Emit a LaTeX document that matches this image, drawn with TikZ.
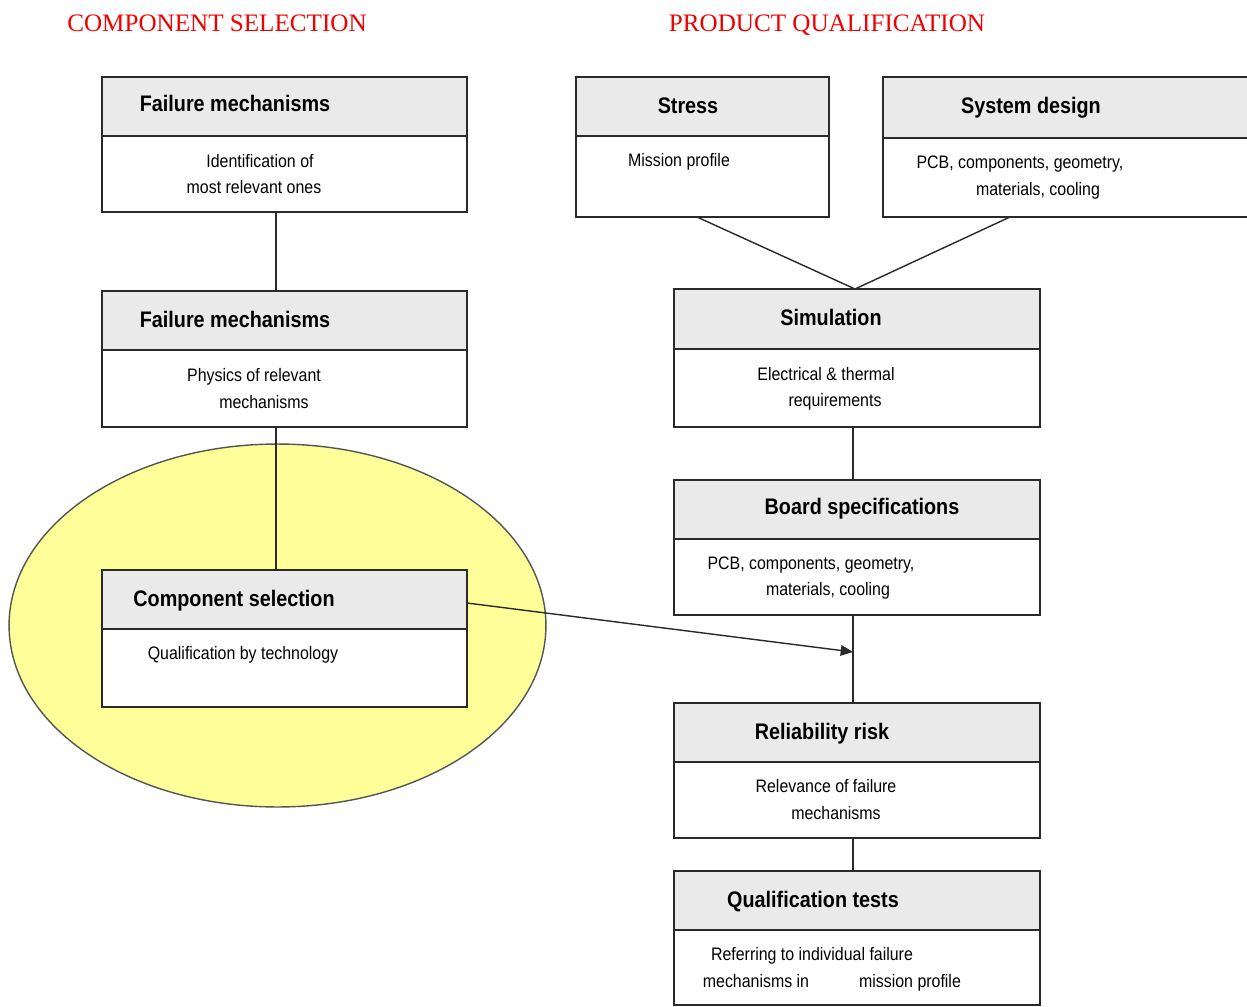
\documentclass[tikz,border=0pt]{standalone}
\usepackage{fontspec}
\setmainfont{Liberation Serif}
\newfontfamily\boxfont[FakeStretch=0.88]{Liberation Sans}
\usetikzlibrary{fit,shapes.geometric,arrows.meta}
\definecolor{hdrgray}{HTML}{EAEAEA}
\definecolor{linec}{HTML}{2A2A2A}
\definecolor{ellfill}{HTML}{FFFF99}
\definecolor{redtitle}{HTML}{F00000}
\tikzset{
  hdr/.style={draw=linec, fill=hdrgray, line width=0.8pt, inner sep=0pt},
  bdy/.style={draw=linec, fill=white, line width=0.8pt, inner sep=0pt},
  ttl/.style={font=\boxfont\bfseries\fontsize{12.8}{14}\selectfont, inner sep=0pt, anchor=base},
  txt/.style={font=\boxfont\fontsize{10.3}{12}\selectfont, inner sep=0pt, anchor=base},
  sect/.style={font=\fontsize{14.3}{16}\selectfont, text=redtitle, inner sep=0pt, anchor=base},
  conn/.style={draw=linec, line width=0.8pt},
}
\begin{document}
\begin{tikzpicture}[x=0.02cm, y=-0.02cm]
\useasboundingbox (0,0) rectangle (1247,1007);
\fill[white] (0,0) rectangle (1247,1007);

% section titles
\node[sect] (t1) at (217,32) {COMPONENT SELECTION};
\node[sect] (t2) at (827,32) {PRODUCT QUALIFICATION};

% ellipse
\node[ellipse, draw=linec!80, fill=ellfill, line width=0.8pt, minimum width=10.74cm, minimum height=7.26cm, inner sep=0pt] (ell) at (277.5,625.5) {};

% Failure mechanisms 1
\node[hdr, fit={(102,77) (467,136)}] (fm1h) {};
\node[bdy, fit={(102,136) (467,212)}] (fm1b) {};
\node[ttl] (fm1t) at (235,112) {Failure mechanisms};
\node[txt] (fm1x1) at (260,167) {Identification of};
\node[txt] (fm1x2) at (254,193) {most relevant ones};

% Failure mechanisms 2
\node[hdr, fit={(102,291) (467,350)}] (fm2h) {};
\node[bdy, fit={(102,350) (467,427)}] (fm2b) {};
\node[ttl] (fm2t) at (235,327) {Failure mechanisms};
\node[txt] (fm2x1) at (254,381) {Physics of relevant};
\node[txt] (fm2x2) at (264,408) {mechanisms};

% Component selection
\node[hdr, fit={(102,570) (467,629)}] (csh) {};
\node[bdy, fit={(102,629) (467,707)}] (csb) {};
\node[ttl] (cst) at (234,606) {Component selection};
\node[txt] (csx1) at (243,659) {Qualification by technology};

% connectors left column
\coordinate (lx) at (276,0);
\draw[conn] (fm1b.south -| lx) -- (fm2h.north -| lx);
\draw[conn] (fm2b.south -| lx) -- (csh.north -| lx);

% Stress
\node[hdr, fit={(576,77) (829,136)}] (sth) {};
\node[bdy, fit={(576,136) (829,217)}] (stb) {};
\node[ttl] (stt) at (688,113) {Stress};
\node[txt] (stx1) at (679,166) {Mission profile};

% System design
\node[hdr, fit={(883,77) (1258,138)}] (sdh) {};
\node[bdy, fit={(883,138) (1258,217)}] (sdb) {};
\node[ttl] (sdt) at (1031,113) {System design};
\node[txt] (sdx1) at (1020,168) {PCB, components, geometry,};
\node[txt] (sdx2) at (1038,195) {materials, cooling};

% Simulation
\node[hdr, fit={(674,289) (1040,349)}] (simh) {};
\node[bdy, fit={(674,349) (1040,427)}] (simb) {};
\node[ttl] (simt) at (831,325) {Simulation};
\node[txt] (simx1) at (826,380) {Electrical \& thermal};
\node[txt] (simx2) at (835,406) {requirements};

\coordinate (stout) at (697,217);
\coordinate (sdout) at (1010,217);
\coordinate (simin) at (855,289);
\draw[conn] (stout) -- (simin) -- (sdout);

% Board specifications
\node[hdr, fit={(674,480) (1040,539)}] (bsh) {};
\node[bdy, fit={(674,539) (1040,615)}] (bsb) {};
\node[ttl] (bst) at (862,514) {Board specifications};
\node[txt] (bsx1) at (811,569) {PCB, components, geometry,};
\node[txt] (bsx2) at (828,595) {materials, cooling};

% Reliability risk
\node[hdr, fit={(674,703) (1040,762)}] (rrh) {};
\node[bdy, fit={(674,762) (1040,838)}] (rrb) {};
\node[ttl] (rrt) at (822,739) {Reliability risk};
\node[txt] (rrx1) at (826,792) {Relevance of failure};
\node[txt] (rrx2) at (836,819) {mechanisms};

% Qualification tests
\node[hdr, fit={(674,871) (1040,930)}] (qth) {};
\node[bdy, fit={(674,930) (1040,1005)}] (qtb) {};
\node[ttl] (qtt) at (813,907) {Qualification tests};
\node[txt] (qtx1) at (812,960) {Referring to individual failure};
\node[txt] (qtx2) at (756,987) {mechanisms in};
\node[txt] (qtx3) at (910,987) {mission profile};

% right column connectors
\coordinate (rx) at (853,0);
\draw[conn] (simb.south -| rx) -- (bsh.north -| rx);
\draw[conn] (bsb.south -| rx) -- (rrh.north -| rx);
\draw[conn] (rrb.south -| rx) -- (qth.north -| rx);

% arrow
\coordinate (csout) at (467,603);
\coordinate (arrend) at (853,652);
\draw[conn, -{Triangle[length=7pt,width=6pt]}] (csout) -- (arrend);
\end{tikzpicture}
\end{document}
